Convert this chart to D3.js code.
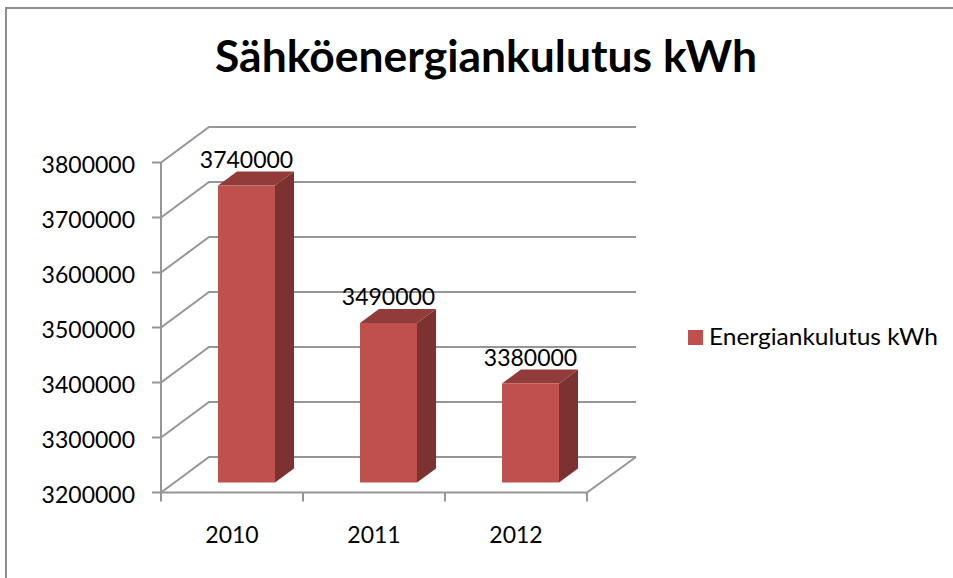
<!DOCTYPE html>
<html>
<head>
<meta charset="utf-8">
<script src="https://cdn.jsdelivr.net/npm/d3@7"></script>
<style>
  html, body { margin: 0; padding: 0; background: #fff; }
  svg { display: block; }
  text { font-family: Lato, "Open Sans", sans-serif; fill: #000; }
</style>
</head>
<body>
<div id="chart"></div>
<script>
const titleText = "Sähköenergiankulutus kWh";
const seriesName = "Energiankulutus kWh";
const years = ["2010", "2011", "2012"];
const values = [3740000, 3490000, 3380000];
const yTicks = [3200000, 3300000, 3400000, 3500000, 3600000, 3700000, 3800000];

const width = 953;
const height = 578;

const svg = d3.select("#chart").append("svg")
  .attr("width", width)
  .attr("height", height);

//frame, only top and left are inside the crop
svg.append("path")
  .attr("d", `M6,${height}V8H${width}`)
  .attr("fill", "none")
  .attr("stroke", "#8e8e8e")
  .attr("stroke-width", 2);

svg.append("text")
  .attr("x", 486)
  .attr("y", 72)
  .attr("text-anchor", "middle")
  .attr("font-size", 43)
  .attr("font-weight", 700)
  .attr("textLength", 542)
  .attr("lengthAdjust", "spacingAndGlyphs")
  .text(titleText);

//scales on the front plane
const y = d3.scaleLinear().domain([3200000, 3800000]).range([492.5, 162.5]);
const x = d3.scaleBand().domain(years).range([161, 587]);

//depth of the box and of the bars
const depth = { x: 48, y: -35.5 };
const barDepth = { x: 19, y: -14 };
const barWidth = 57;
const barShift = 57;
const barLift = 10;

const gridColor = "#969696";
const gGrid = svg.append("g")
  .attr("fill", "none")
  .attr("stroke", gridColor)
  .attr("stroke-width", 2);

//back wall and side wall lines
gGrid.selectAll("path.grid")
  .data(yTicks)
  .join("path")
  .attr("class", "grid")
  .attr("d", (d) => `M${x.range()[0] - 9},${y(d)}H${x.range()[0]}L${x.range()[0] + depth.x},${y(d) + depth.y}H${x.range()[1] + depth.x + 1}`);

//floor and axes
gGrid.append("path")
  .attr("d", `M${x.range()[0]},${y(3800000)}V${y(3200000) + 9}`);
gGrid.append("path")
  .attr("d", `M${x.range()[0]},${y(3200000)}H${x.range()[1]}L${x.range()[1] + depth.x + 1},${y(3200000) + depth.y}`);
gGrid.selectAll("path.tick")
  .data(years)
  .join("path")
  .attr("class", "tick")
  .attr("d", (d) => `M${x(d) + x.step()},${y(3200000)}v9`);

//bars
const bar = svg.append("g").selectAll("g.bar")
  .data(years.map((year, i) => ({ year, value: values[i] })))
  .join("g")
  .attr("class", "bar")
  .attr("transform", (d) => `translate(${x(d.year) + barShift},${-barLift})`);

bar.append("path")
  .attr("fill", "#7b3230")
  .attr("d", (d) => `M${barWidth},${y(d.value)}l${barDepth.x},${barDepth.y * 1}V${y(3200000) + barDepth.y}l${-barDepth.x},${-barDepth.y}Z`);
bar.append("path")
  .attr("fill", "#913c3a")
  .attr("d", (d) => `M0,${y(d.value)}l${barDepth.x},${barDepth.y}h${barWidth}l${-barDepth.x},${-barDepth.y}Z`);
bar.append("rect")
  .attr("fill", "#c0504d")
  .attr("y", (d) => y(d.value))
  .attr("width", barWidth)
  .attr("height", (d) => y(3200000) - y(d.value));

bar.append("text")
  .attr("x", barWidth / 2)
  .attr("y", (d) => y(d.value) - 18)
  .attr("text-anchor", "middle")
  .attr("font-size", 23)
  .text((d) => d3.format("d")(d.value));

//axis labels
svg.append("g").selectAll("text")
  .data(yTicks)
  .join("text")
  .attr("x", 135)
  .attr("y", (d) => y(d) + 10)
  .attr("text-anchor", "end")
  .attr("font-size", 23)
  .text((d) => d3.format("d")(d));

svg.append("g").selectAll("text")
  .data(years)
  .join("text")
  .attr("x", (d) => x(d) + x.bandwidth() / 2)
  .attr("y", 543)
  .attr("text-anchor", "middle")
  .attr("font-size", 23)
  .text((d) => d);

//legend
svg.append("rect")
  .attr("x", 688)
  .attr("y", 330)
  .attr("width", 15)
  .attr("height", 15)
  .attr("fill", "#c0504d");
svg.append("text")
  .attr("x", 709)
  .attr("y", 345)
  .attr("font-size", 23)
  .attr("textLength", 229)
  .attr("lengthAdjust", "spacingAndGlyphs")
  .text(seriesName);
</script>
</body>
</html>
